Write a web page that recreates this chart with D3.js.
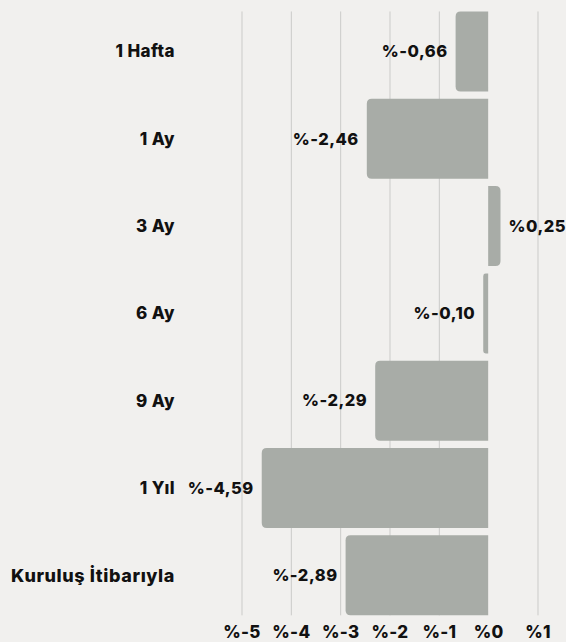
<!DOCTYPE html>
<html><head><meta charset="utf-8">
<script src="https://cdn.jsdelivr.net/npm/d3@7"></script>
<style>
html,body{margin:0;padding:0;background:#f1f0ee;}
svg{display:block;}
text{font-family:Inter,"Noto Sans",sans-serif;font-weight:800;fill:#111;}
</style></head>
<body>
<svg id="c" width="566" height="642"></svg>
<script>
const categories = ["1 Hafta","1 Ay","3 Ay","6 Ay","9 Ay","1 Yıl","Kuruluş İtibarıyla"];
const values = [-0.66,-2.46,0.25,-0.10,-2.29,-4.59,-2.89];
const valueLabels = ["%-0,66","%-2,46","%0,25","%-0,10","%-2,29","%-4,59","%-2,89"];
const tickValues = [-5,-4,-3,-2,-1,0,1];
const tickLabels = ["%-5","%-4","%-3","%-2","%-1","%0","%1"];

const W = 566, H = 642;
const svg = d3.select("#c");
svg.append("rect").attr("width",W).attr("height",H).attr("fill","#f1f0ee");

const x = d3.scaleLinear().domain([-5,1]).range([241.5,537.5]);
const y = d3.scaleBand().domain(categories).range([7.8,619]).paddingInner(0.084).paddingOuter(0.042);

const gTop = y(categories[0]);
const gBot = y(categories[categories.length-1]) + y.bandwidth();

// gridlines
svg.append("g").selectAll("line").data(tickValues.filter(v=>v!==0)).join("line")
  .attr("x1",d=>x(d)+0.5).attr("x2",d=>x(d)+0.5)
  .attr("y1",gTop).attr("y2",gBot)
  .attr("stroke","#cbcbc9").attr("stroke-width",1);

// bars with rounded far end
function barPath(v, y0, h){
  const x0 = x(0), x1 = x(v);
  const r = Math.min(5, Math.abs(x1-x0)/2);
  if (v < 0){
    return `M${x0},${y0} L${x1+r},${y0} Q${x1},${y0} ${x1},${y0+r} L${x1},${y0+h-r} Q${x1},${y0+h} ${x1+r},${y0+h} L${x0},${y0+h} Z`;
  } else {
    return `M${x0},${y0} L${x1-r},${y0} Q${x1},${y0} ${x1},${y0+r} L${x1},${y0+h-r} Q${x1},${y0+h} ${x1-r},${y0+h} L${x0},${y0+h} Z`;
  }
}
svg.append("g").selectAll("path").data(values).join("path")
  .attr("d",(v,i)=>barPath(v, y(categories[i]), y.bandwidth()))
  .attr("fill","#a8aca7");

// value labels
svg.append("g").selectAll("text").data(values).join("text")
  .attr("x",v=> v<0 ? x(v)-8 : x(v)+8)
  .attr("y",(v,i)=>y(categories[i])+y.bandwidth()/2)
  .attr("dy","0.35em")
  .attr("text-anchor",v=> v<0 ? "end" : "start")
  .attr("font-size",16.5)
  .attr("letter-spacing",0.5)
  .text((v,i)=>valueLabels[i]);

// category labels
svg.append("g").selectAll("text").data(categories).join("text")
  .attr("x",175)
  .attr("y",d=>y(d)+y.bandwidth()/2)
  .attr("dy","0.35em")
  .attr("text-anchor","end")
  .attr("font-size",(d,i)=> i===categories.length-1 ? 18 : 17)
  .attr("letter-spacing",(d,i)=> i===categories.length-1 ? 0.6 : 0.4)
  .text(d=>d);

// x axis tick labels
const xAxis = d3.axisBottom(x).tickValues(tickValues).tickSize(0).tickPadding(0)
  .tickFormat((d,i)=>tickLabels[i]);
const ax = svg.append("g").attr("transform","translate(0,626)").call(xAxis);
ax.select(".domain").remove();
ax.selectAll("text").attr("font-size",17).attr("fill","#111").attr("letter-spacing",0.3)
  .style("font-family","Inter, 'Noto Sans', sans-serif").style("font-weight","800");
</script>
</body></html>
